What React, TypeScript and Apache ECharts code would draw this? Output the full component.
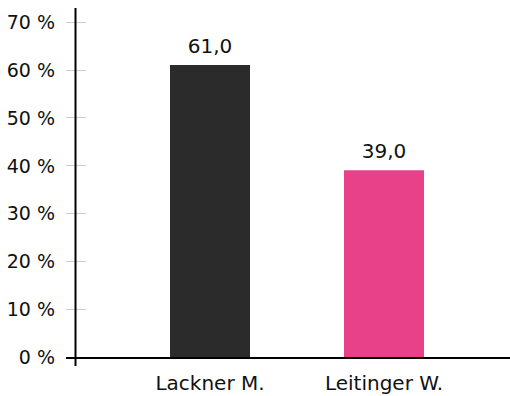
import React, { useEffect, useRef } from "react";
import * as echarts from "echarts";

const categories = ["Lackner M.", "Leitinger W."];
const values = [61.0, 39.0];
const barColors = ["#2b2b2b", "#e8418a"];

const FONT = "DejaVu Sans";

export default function App() {
  const ref = useRef<HTMLDivElement>(null);
  useEffect(() => {
    document.body.style.margin = "0";
    if (!ref.current) return;
    const chart = echarts.init(ref.current, undefined, { renderer: "svg" });
    chart.setOption({
      animation: false,
      textStyle: { fontFamily: FONT },
      grid: { left: 123, right: 39, top: 22, bottom: 39 },
      xAxis: {
        type: "category",
        data: categories,
        axisLine: { show: false },
        axisTick: { show: false },
        axisLabel: { color: "#111", fontSize: 20, fontFamily: FONT, margin: 16 },
      },
      yAxis: [
        {
          type: "value",
          min: 0,
          max: 70,
          interval: 10,
          offset: 48,
          axisLine: { show: false },
          axisTick: { show: true, length: 9, lineStyle: { color: "#cccccc", width: 1 } },
          splitLine: { show: false },
          axisLabel: {
            color: "#111",
            fontSize: 19,
            fontFamily: FONT,
            margin: 20,
            formatter: (v: number) => `${v} %`,
          },
        },
        {
          type: "value",
          min: 0,
          max: 70,
          interval: 10,
          position: "left",
          offset: 48,
          axisLine: { show: false },
          axisTick: { show: true, inside: true, length: 11, lineStyle: { color: "#cccccc", width: 1 } },
          splitLine: { show: false },
          axisLabel: { show: false },
        },
      ],
      graphic: [
        {
          type: "line",
          shape: { x1: 75.5, y1: 8, x2: 75.5, y2: 366 },
          style: { stroke: "#000", lineWidth: 2 },
          z: 10,
        },
        {
          type: "line",
          shape: { x1: 66, y1: 358, x2: 510, y2: 358 },
          style: { stroke: "#000", lineWidth: 2 },
          z: 10,
        },
      ],
      series: [
        {
          type: "bar",
          yAxisIndex: 0,
          barWidth: 80,
          data: values.map((v, i) => ({ value: v, itemStyle: { color: barColors[i] } })),
          label: {
            show: true,
            position: "top",
            distance: 9,
            color: "#111",
            fontSize: 20,
            fontFamily: FONT,
            formatter: (p: any) => Number(p.value).toFixed(1).replace(".", ","),
          },
        },
      ],
    });
    return () => chart.dispose();
  }, []);
  return <div ref={ref} style={{ width: 510, height: 396 }} />;
}
